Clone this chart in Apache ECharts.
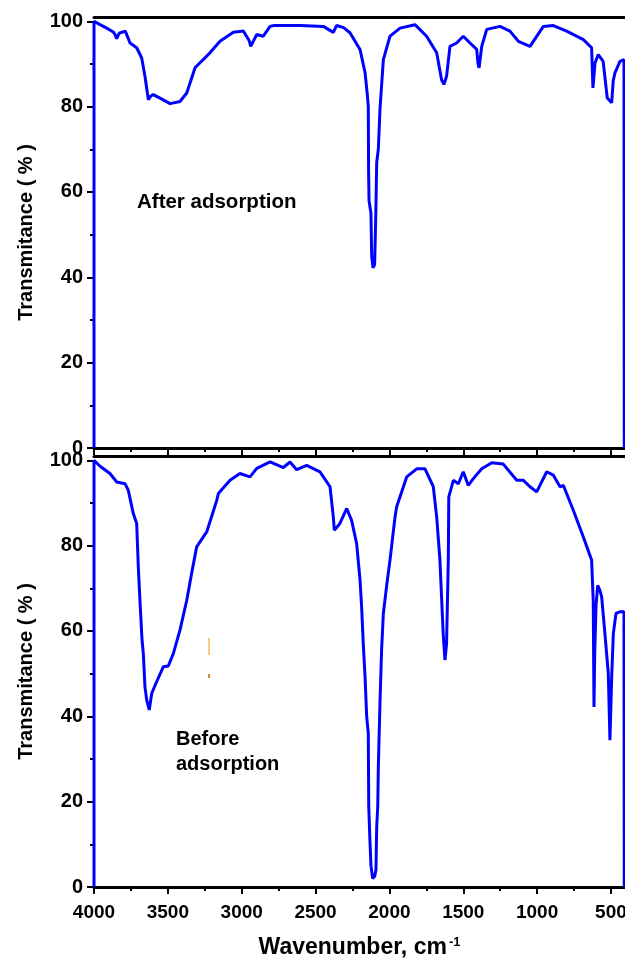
<!DOCTYPE html>
<html>
<head>
<meta charset="utf-8">
<title>FTIR spectra</title>
<script src="https://cdn.jsdelivr.net/npm/echarts@6/dist/echarts.min.js"></script>
<style>
  html, body { margin: 0; padding: 0; background: #fff; }
  #chart { width: 625px; height: 961px; }
</style>
</head>
<body>
<div id="chart"></div>
<script>
// wavenumber (cm-1) / transmittance (%)
const afterWn = [4000, 4000, 3959, 3914, 3870, 3858, 3846, 3830, 3788, 3756, 3711, 3677, 3655, 3632, 3615, 3599, 3553, 3485, 3418, 3372, 3316, 3215, 3147, 3057, 2989, 2950, 2939, 2898, 2854, 2808, 2780, 2605, 2447, 2380, 2357, 2310, 2267, 2199, 2165, 2150, 2143, 2141, 2138, 2125, 2120, 2111, 2100, 2092, 2086, 2075, 2064, 2041, 1996, 1928, 1827, 1748, 1680, 1647, 1631, 1613, 1590, 1545, 1500, 1454, 1409, 1400, 1393, 1375, 1341, 1251, 1184, 1127, 1048, 958, 890, 800, 687, 631, 622, 618, 608, 586, 553, 525, 518, 495, 485, 473, 439, 412, 410];
const afterT = [0, 100, 99.2, 98.4, 97.5, 96.9, 95.9, 97.2, 97.7, 94.9, 93.8, 91.4, 87.1, 81.6, 82.5, 82.8, 82.0, 80.7, 81.2, 83.2, 89.1, 92.6, 95.3, 97.4, 97.7, 95.5, 94.1, 96.9, 96.5, 98.8, 99.0, 99.0, 98.8, 97.4, 99.0, 98.5, 97.3, 93.4, 88, 83, 80, 65, 58, 55, 45, 42.2, 43, 55, 66.9, 70, 79.3, 91, 96.5, 98.4, 99.2, 96.5, 92.6, 86.3, 85.2, 87.1, 94.1, 94.9, 96.5, 94.9, 93.4, 90, 89.1, 94.1, 98.1, 98.8, 97.7, 95.3, 94.1, 98.8, 99.0, 97.7, 95.7, 93.8, 84.4, 84.4, 90.2, 92.2, 90.6, 82, 81.6, 80.9, 86, 87.9, 90.6, 91.0, 0];

const beforeWn = [4000, 4000, 3959, 3892, 3846, 3790, 3768, 3734, 3711, 3700, 3689, 3675, 3666, 3655, 3643, 3626, 3609, 3576, 3531, 3497, 3463, 3418, 3372, 3339, 3305, 3237, 3169, 3158, 3079, 3012, 2944, 2898, 2808, 2718, 2673, 2628, 2560, 2470, 2402, 2380, 2373, 2335, 2289, 2256, 2222, 2199, 2188, 2177, 2165, 2154, 2143, 2140, 2132, 2125, 2113, 2100, 2091, 2086, 2079, 2075, 2064, 2053, 2041, 2014, 1996, 1962, 1951, 1883, 1815, 1759, 1703, 1680, 1658, 1636, 1624, 1613, 1601, 1598, 1567, 1533, 1500, 1466, 1432, 1375, 1307, 1229, 1138, 1093, 1048, 1003, 935, 890, 845, 822, 755, 687, 631, 620, 615, 610, 601, 590, 575, 563, 541, 518, 507, 495, 484, 466, 440, 412, 410];
const beforeT = [0, 100, 98.6, 96.9, 94.9, 94.5, 93.0, 87.5, 85.2, 75, 67.2, 58, 54.7, 46.9, 43.8, 41.5, 45.4, 48.1, 51.6, 51.8, 54.7, 60.2, 67.2, 73.5, 79.7, 83.2, 90.6, 92.2, 95.3, 96.9, 96.1, 98.1, 99.6, 98.3, 99.6, 97.8, 98.8, 97.3, 93.8, 86.8, 83.6, 85.2, 88.7, 85.9, 80.5, 72, 65.6, 57, 49.3, 40, 36.0, 19, 11, 5, 2.0, 2.5, 4.0, 14.1, 18.8, 28.2, 43.0, 55.5, 64.1, 71.9, 76.6, 86.7, 89.1, 96.1, 98.0, 98.0, 93.8, 86.8, 76.6, 59.4, 53.2, 57.0, 77.4, 91.4, 95.3, 94.5, 97.3, 94.1, 95.7, 98.0, 99.4, 99.1, 95.3, 95.3, 93.8, 92.6, 97.3, 96.5, 93.8, 94.1, 88.3, 82.0, 76.6, 67, 42.2, 55, 66, 70.7, 69.5, 68, 59.4, 50, 34.4, 49.3, 59.4, 64.1, 64.5, 64.5, 0];

const xTicks = [4000, 3500, 3000, 2500, 2000, 1500, 1000, 500];
const xMinorTicks = [3750, 3250, 2750, 2250, 1750, 1250, 750];
const yTicks = [0, 20, 40, 60, 80, 100];
const yMinorTicks = [10, 30, 50, 70, 90];

const zip = (xs, ys) => xs.map((x, i) => [x, ys[i]]);

const chart = echarts.init(document.getElementById('chart'));
const black = '#000';
const font = 'Liberation Sans, Arial, sans-serif';

function xAxes(grid, withLabels) {
  const base = { type: 'value', gridIndex: grid, min: 405, max: 4000, inverse: true, splitLine: { show: false } };
  return [
    Object.assign({}, base, {
      position: 'bottom',
      axisLine: { show: true, lineStyle: { color: black, width: 3 } },
      axisTick: { show: true, customValues: xTicks, length: 7, lineStyle: { color: black, width: 2 } },
      axisLabel: withLabels
        ? { show: true, customValues: xTicks, margin: 16, color: black, fontSize: 19, fontWeight: 'bold', fontFamily: font, formatter: v => String(v) }
        : { show: false },
      name: withLabels ? '{a|Wavenumber, cm}{b|-1}' : '',
      nameLocation: 'middle',
      nameGap: 49,
      nameTextStyle: {
        rich: {
          a: { fontSize: 23, fontWeight: 'bold', color: black, fontFamily: font },
          b: { fontSize: 13, fontWeight: 'bold', color: black, fontFamily: font, verticalAlign: 'top', padding: [0, 0, 0, 2] }
        }
      }
    }),
    Object.assign({}, base, {
      position: 'bottom',
      axisLine: { show: false },
      axisTick: { show: true, customValues: xMinorTicks, length: 4, lineStyle: { color: black, width: 2 } },
      axisLabel: { show: false }
    }),
    Object.assign({}, base, {
      position: 'top',
      axisLine: { show: true, lineStyle: { color: black, width: 3 } },
      axisTick: { show: false },
      axisLabel: { show: false }
    })
  ];
}

function yAxes(grid) {
  const base = { type: 'value', gridIndex: grid, position: 'left', min: 0, max: 101, splitLine: { show: false }, axisLine: { show: false } };
  return [
    Object.assign({}, base, {
      axisTick: { show: true, customValues: yTicks, length: 7, lineStyle: { color: black, width: 2 } },
      axisLabel: { customValues: yTicks, margin: 11, color: black, fontSize: 20, fontWeight: 'bold', fontFamily: font },
      name: 'Transmitance ( % )',
      nameLocation: 'middle',
      nameRotate: 90,
      nameGap: 58,
      nameTextStyle: { fontSize: 20, fontWeight: 'bold', color: black, fontFamily: font }
    }),
    Object.assign({}, base, {
      axisTick: { show: true, customValues: yMinorTicks, length: 4, lineStyle: { color: black, width: 2 } },
      axisLabel: { show: false }
    })
  ];
}

const lineStyle = { color: '#0000ff', width: 3 };

const option = {
  animation: false,
  backgroundColor: '#fff',
  grid: [
    { left: 94, right: 0, top: 17, height: 431, outerBoundsMode: 'none' },
    { left: 94, right: 0, top: 456, height: 431, outerBoundsMode: 'none' }
  ],
  xAxis: xAxes(0, false).concat(xAxes(1, true)),
  yAxis: yAxes(0).concat(yAxes(1)),
  series: [
    { name: 'After adsorption', type: 'line', xAxisIndex: 0, yAxisIndex: 0, data: zip(afterWn, afterT), showSymbol: false, lineStyle: lineStyle, clip: true },
    { name: 'Before adsorption', type: 'line', xAxisIndex: 3, yAxisIndex: 2, data: zip(beforeWn, beforeT), showSymbol: false, lineStyle: lineStyle, clip: true }
  ],
  graphic: [
    { type: 'text', left: 137, top: 192, style: { text: 'After adsorption', fontSize: 20.5, fontWeight: 'bold', fill: black, fontFamily: font } },
    { type: 'text', left: 176, top: 727, style: { text: 'Before\nadsorption', fontSize: 20, lineHeight: 25, fontWeight: 'bold', fill: black, fontFamily: font } },
    { type: 'rect', shape: { x: 208, y: 638, width: 2, height: 17 }, style: { fill: '#f8c888' } },
    { type: 'rect', shape: { x: 208, y: 674, width: 2, height: 4 }, style: { fill: '#d98a3a' } }
  ]
};

chart.setOption(option);
</script>
</body>
</html>
